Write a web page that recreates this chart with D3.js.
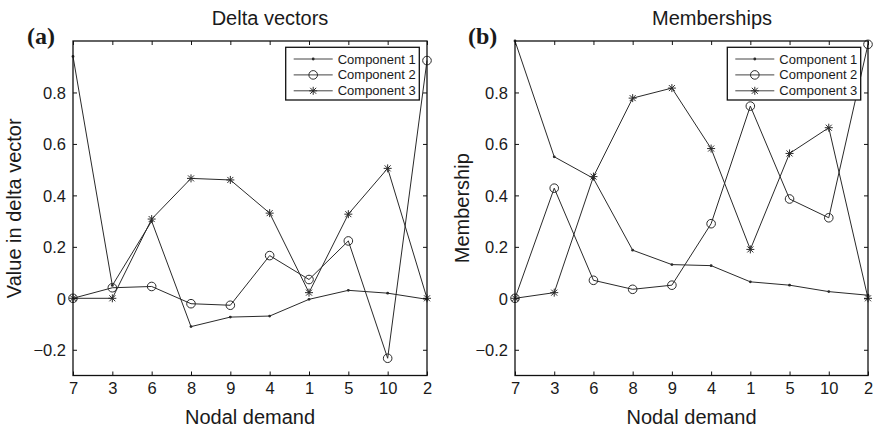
<!DOCTYPE html>
<html>
<head>
<meta charset="utf-8">
<script src="https://cdn.jsdelivr.net/npm/d3@7"></script>
<style>
  html, body { margin: 0; padding: 0; background: #fff; }
  svg { display: block; }
  text { font-family: "Liberation Sans", Arial, sans-serif; fill: #1a1a1a; }
</style>
</head>
<body>
<script>
// ---------- data ----------
const categories = ["7", "3", "6", "8", "9", "4", "1", "5", "10", "2"];
const yTicks = [-0.2, 0, 0.2, 0.4, 0.6, 0.8];
const seriesNames = ["Component 1", "Component 2", "Component 3"];

const deltaComp1 = [0.94, 0.05, 0.30, -0.11, -0.073, -0.069, -0.004, 0.031, 0.020, -0.004];
const deltaComp2 = [0.0, 0.041, 0.046, -0.021, -0.027, 0.166, 0.073, 0.223, -0.233, 0.924];
const deltaComp3 = [0.0, 0.0, 0.308, 0.466, 0.460, 0.331, 0.022, 0.327, 0.505, 0.0];

const memberComp1 = [1.0, 0.55, 0.466, 0.187, 0.131, 0.127, 0.064, 0.051, 0.026, 0.012];
const memberComp2 = [0.0, 0.428, 0.070, 0.035, 0.051, 0.290, 0.747, 0.386, 0.313, 0.987];
const memberComp3 = [0.0, 0.022, 0.473, 0.778, 0.817, 0.582, 0.190, 0.563, 0.663, 0.0];

// ---------- drawing ----------
const W = 875, H = 431;
const svg = d3.select("body").append("svg").attr("width", W).attr("height", H);

const lineColor = "#2a2a2a";
const markers = ["dot", "circle", "star"];

function drawMarker(g, type, x, y) {
  if (type === "dot") {
    g.append("circle").attr("cx", x).attr("cy", y).attr("r", 1.4).attr("fill", lineColor);
  } else if (type === "circle") {
    g.append("circle").attr("cx", x).attr("cy", y).attr("r", 4.3)
      .attr("fill", "none").attr("stroke", lineColor).attr("stroke-width", 1);
  } else {
    const s = 4, d = 3;
    const p = `M${x - s},${y}L${x + s},${y}M${x},${y - s}L${x},${y + s}` +
              `M${x - d},${y - d}L${x + d},${y + d}M${x - d},${y + d}L${x + d},${y - d}`;
    g.append("path").attr("d", p).attr("stroke", lineColor).attr("stroke-width", 1).attr("fill", "none");
  }
}

function panel(opt) {
  const g = svg.append("g");
  const x = d3.scalePoint().domain(categories).range([opt.x0, opt.x1]).padding(0);
  const y = d3.scaleLinear().domain([-0.3, 1]).range([opt.yBot, opt.yTop]);

  // series
  const line = d3.line().x((d, i) => x(categories[i])).y(d => y(d));
  opt.series.forEach((vals, si) => {
    g.append("path").datum(vals).attr("d", line)
      .attr("fill", "none").attr("stroke", lineColor).attr("stroke-width", 1);
    const mg = g.append("g");
    vals.forEach((v, i) => drawMarker(mg, markers[si], x(categories[i]), y(v)));
  });

  // axes (Matlab-like box with inward ticks)
  const fmt = d => (d < 0 ? "\u2212" : "") + d3.format("")(Math.abs(+d.toFixed(1)));
  const axL = g.append("g").attr("transform", `translate(${opt.x0},0)`)
    .call(d3.axisLeft(y).tickValues(yTicks).tickSizeInner(-4).tickSizeOuter(0).tickPadding(7).tickFormat(fmt));
  const axR = g.append("g").attr("transform", `translate(${opt.x1},0)`)
    .call(d3.axisRight(y).tickValues(yTicks).tickSizeInner(-4).tickSizeOuter(0).tickFormat(""));
  const axB = g.append("g").attr("transform", `translate(0,${opt.yBot})`)
    .call(d3.axisBottom(x).tickSizeInner(-4).tickSizeOuter(0).tickPadding(7));
  const axT = g.append("g").attr("transform", `translate(0,${opt.yTop})`)
    .call(d3.axisTop(x).tickSizeInner(-4).tickSizeOuter(0).tickFormat(""));
  [axL, axR, axB, axT].forEach(a => {
    a.select(".domain").remove();
    a.selectAll(".tick line").attr("stroke", "#111").attr("stroke-width", 1);
    a.selectAll(".tick text").attr("font-size", 16.5)
      .attr("font-family", "Liberation Sans, Arial, sans-serif").attr("fill", "#1a1a1a");
  });
  axL.selectAll(".tick text").attr("dy", "0.36em");
  axB.selectAll(".tick text").attr("dy", "0.72em");
  g.append("rect").attr("x", opt.x0).attr("y", opt.yTop)
    .attr("width", opt.x1 - opt.x0).attr("height", opt.yBot - opt.yTop)
    .attr("fill", "none").attr("stroke", "#111").attr("stroke-width", 1.3);

  // titles and labels
  g.append("text").attr("x", opt.titleX).attr("y", 25).attr("text-anchor", "middle")
    .attr("font-size", 20).text(opt.title);
  g.append("text").attr("x", opt.tagX).attr("y", 44)
    .style("font-family", "'Liberation Serif', 'Times New Roman', serif")
    .attr("font-weight", "bold").attr("font-size", 24).text(opt.tag);
  g.append("text").attr("x", (opt.x0 + opt.x1) / 2).attr("y", 424).attr("text-anchor", "middle")
    .attr("font-size", 20).text("Nodal demand");
  g.append("text").attr("transform", `translate(${opt.yLabelX},${(opt.yTop + opt.yBot) / 2}) rotate(-90)`)
    .attr("text-anchor", "middle").attr("font-size", 20).text(opt.yLabel);

  // legend
  const lg = g.append("g");
  lg.append("rect").attr("x", opt.legX0).attr("y", 47.3).attr("width", opt.legX1 - opt.legX0)
    .attr("height", 52.7).attr("fill", "#fff").attr("stroke", "#111").attr("stroke-width", 1.3);
  seriesNames.forEach((name, i) => {
    const ry = 59 + i * 15.9;
    const lx0 = opt.legX0 + 8, lx1 = opt.legX0 + 47;
    lg.append("line").attr("x1", lx0).attr("x2", lx1).attr("y1", ry).attr("y2", ry)
      .attr("stroke", "#444").attr("stroke-width", 1);
    drawMarker(lg, markers[i], (lx0 + lx1) / 2, ry);
    lg.append("text").attr("x", opt.legX0 + 52).attr("y", ry).attr("dy", "0.35em")
      .attr("font-size", 13).text(name);
  });
}

panel({
  x0: 73, x1: 427, yTop: 41, yBot: 375.5,
  series: [deltaComp1, deltaComp2, deltaComp3],
  title: "Delta vectors", titleX: 270, tag: "(a)", tagX: 27,
  yLabel: "Value in delta vector", yLabelX: 21,
  legX0: 285.7, legX1: 419.3
});
panel({
  x0: 515, x1: 868, yTop: 41, yBot: 375.5,
  series: [memberComp1, memberComp2, memberComp3],
  title: "Memberships", titleX: 712, tag: "(b)", tagX: 468,
  yLabel: "Membership", yLabelX: 469,
  legX0: 727.3, legX1: 860.7
});
</script>
</body>
</html>
